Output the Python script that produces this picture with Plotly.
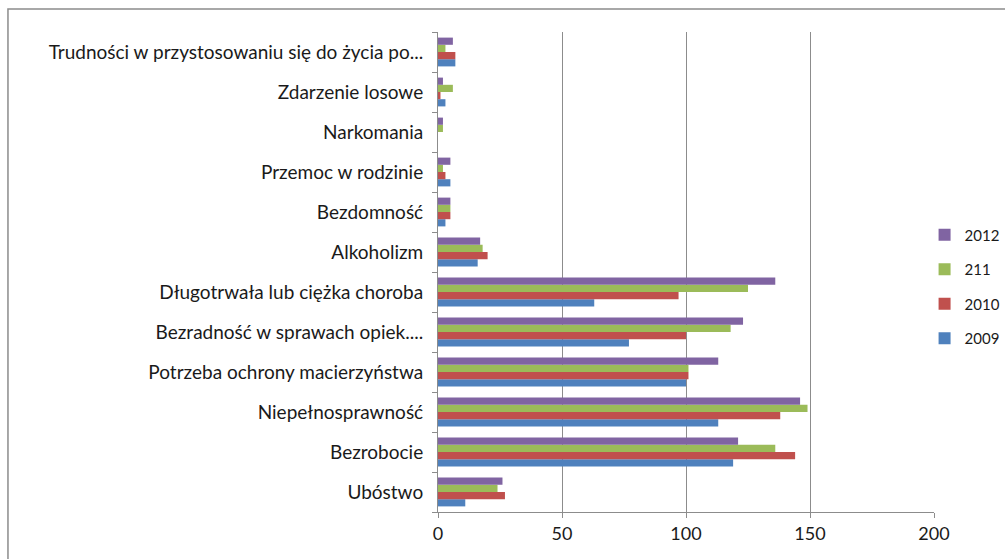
import plotly.graph_objects as go

categories = [
    "Ubóstwo",
    "Bezrobocie",
    "Niepełnosprawność",
    "Potrzeba ochrony macierzyństwa",
    "Bezradność w sprawach opiek....",
    "Długotrwała lub ciężka choroba",
    "Alkoholizm",
    "Bezdomność",
    "Przemoc w rodzinie",
    "Narkomania",
    "Zdarzenie losowe",
    "Trudności w przystosowaniu się do życia po...",
]

series_names = ["2009", "2010", "211", "2012"]
v2009 = [11, 119, 113, 100, 77, 63, 16, 3, 5, 0, 3, 7]
v2010 = [27, 144, 138, 101, 100, 97, 20, 5, 3, 0, 1, 7]
v211 = [24, 136, 149, 101, 118, 125, 18, 5, 2, 2, 6, 3]
v2012 = [26, 121, 146, 113, 123, 136, 17, 5, 5, 2, 2, 6]
colors = ["#4F81BD", "#C0504D", "#9BBB59", "#8064A2"]

x_ticks = [0, 50, 100, 150, 200]

fig = go.Figure()
n = len(series_names)
for i, (name, vals, col) in enumerate(zip(series_names, [v2009, v2010, v211, v2012], colors)):
    fig.add_trace(go.Bar(
        y=categories, x=vals, name=name, orientation="h",
        marker=dict(color=col, line=dict(width=0)),
        legendgroup=name, legendrank=n - i,
    ))

font_family = "Lato, 'Liberation Sans', sans-serif"

fig.update_layout(
    width=1005, height=559,
    paper_bgcolor="white", plot_bgcolor="white",
    barmode="group", bargap=0.28, bargroupgap=0,
    margin=dict(l=438, r=71, t=32, b=47, autoexpand=False),
    font=dict(family=font_family, size=19, color="#1a1a1a"),
    showlegend=True,
    legend=dict(
        traceorder="grouped", x=0.981, xanchor="left", y=0.47, yanchor="middle",
        font=dict(size=15, color="#1a1a1a"), tracegroupgap=12,
        itemwidth=30, bgcolor="rgba(0,0,0,0)",
    ),
    xaxis=dict(
        range=[0, 200], tickvals=x_ticks, ticktext=[str(t) for t in x_ticks],
        showgrid=True, gridcolor="#8c8c8c", gridwidth=1,
        showline=True, linecolor="#8c8c8c", linewidth=1,
        ticks="outside", ticklen=5, tickcolor="#8c8c8c",
        zeroline=False, tickfont=dict(size=18),
    ),
    yaxis=dict(
        type="category", categoryorder="array", categoryarray=categories,
        showline=True, linecolor="#8c8c8c", linewidth=1,
        ticks="outside", ticklen=5, tickcolor="#8c8c8c", tickson="boundaries",
        showgrid=False, tickfont=dict(size=19), ticklabelstandoff=10,
    ),
    shapes=[dict(
        type="rect", xref="paper", yref="paper",
        x0=-0.867, x1=1.3, y0=-0.3, y1=1.048,
        line=dict(color="#8c8c8c", width=1.5), fillcolor="rgba(0,0,0,0)",
        layer="below",
    )],
)

fig.write_html(
    "out.html",
    config={"displayModeBar": False},
    post_script="document.body.style.margin='0';document.body.style.overflow='hidden';",
)
